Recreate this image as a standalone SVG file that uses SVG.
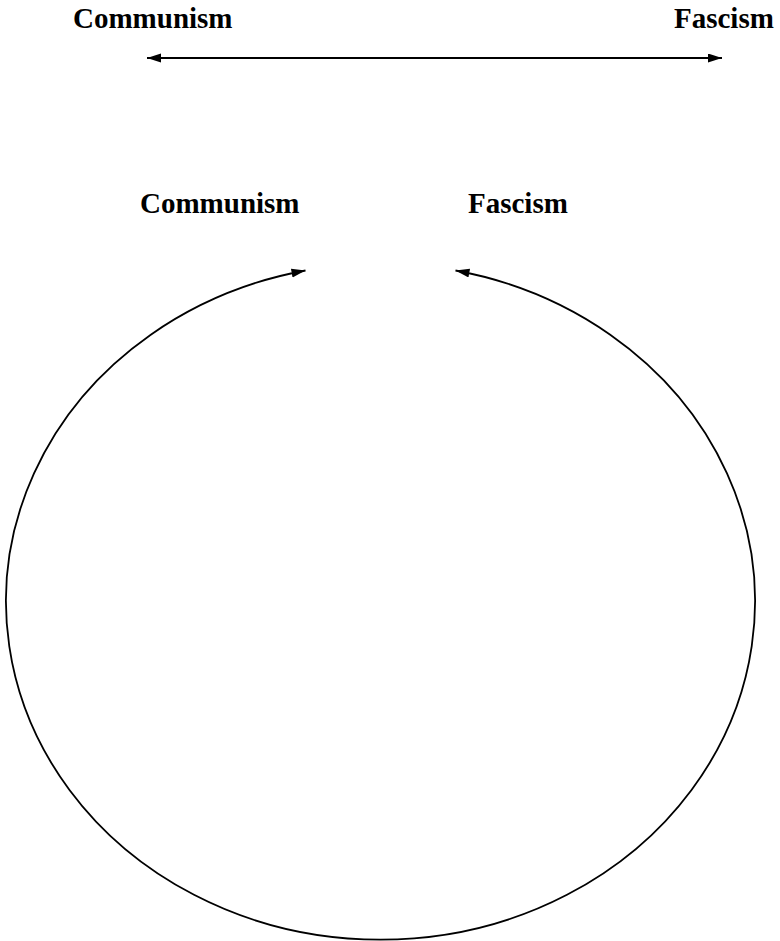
<svg xmlns="http://www.w3.org/2000/svg" width="780" height="941" viewBox="0 0 780 941">
<style>
.lbl{font-family:"Liberation Serif","Times New Roman",serif;font-weight:bold;font-size:29px;fill:#000}
.ln{fill:none;stroke:#000;stroke-width:1.8}
</style>
<defs>
<marker id="ah" markerUnits="userSpaceOnUse" markerWidth="16" markerHeight="10" refX="14" refY="4.5" orient="auto-start-reverse" viewBox="0 0 16 10">
<path d="M0,0 L14,4.5 L0,9 z" fill="#000"/>
</marker>
</defs>
<rect width="780" height="941" fill="#fff"/>
<g id="n-communism-top"><text class="lbl" x="73" y="28">Communism</text></g>
<g id="n-fascism-top"><text class="lbl" x="674" y="28">Fascism</text></g>
<g id="n-communism-circle"><text class="lbl" x="140" y="213">Communism</text></g>
<g id="n-fascism-circle"><text class="lbl" x="468" y="213">Fascism</text></g>
<g id="connectors">
<line class="ln" x1="147" y1="58" x2="722" y2="58" marker-start="url(#ah)" marker-end="url(#ah)"/>
<path class="ln" d="M 455.5 270.5 A 374.5 338 0 1 1 305.5 270.5" marker-start="url(#ah)" marker-end="url(#ah)"/>
</g>
</svg>
